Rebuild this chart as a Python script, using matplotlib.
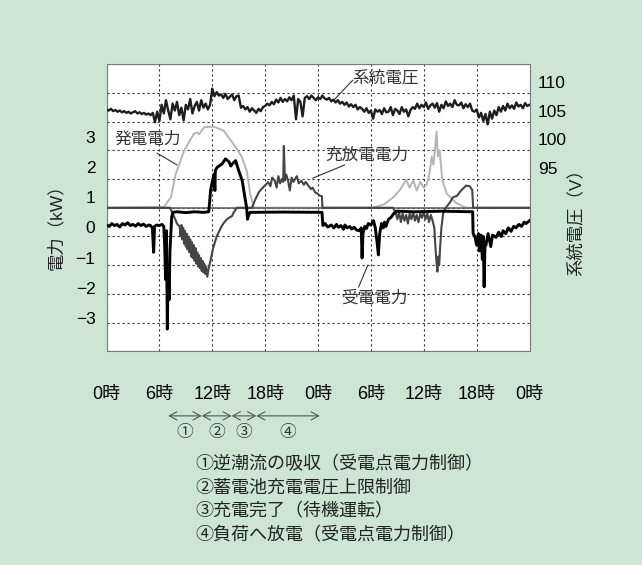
import numpy as np
import matplotlib
matplotlib.use('Agg')
import matplotlib.pyplot as plt

plt.rcParams['font.family'] = ['Liberation Sans', 'Noto Sans CJK JP']

# system voltage, every 15 min over 48 h (V)
volt_h = np.arange(0, 48.01, 0.25)
volt = [
    105.2, 105.0, 105.3, 104.9, 105.1, 104.8, 105.0, 104.7,
    104.9, 104.6, 104.8, 104.5, 104.7, 104.9, 104.5, 104.7,
    104.4, 104.6, 104.3, 104.5, 104.2, 104.6, 103.0, 104.8,
    103.2, 106.0, 104.5, 106.8, 105.0, 103.5, 106.2, 105.0,
    106.5, 104.2, 105.5, 103.3, 106.0, 105.2, 107.0, 104.5,
    105.8, 106.5, 105.0, 106.8, 105.5, 106.2, 105.2, 106.0,
    108.8, 107.5, 108.2, 107.6, 107.8, 107.2, 107.9, 107.0,
    107.4, 107.8, 106.8, 107.5, 107.6, 105.5, 105.8, 105.2,
    105.6, 104.8, 105.4, 105.0, 104.6, 105.3, 104.9, 105.6,
    105.8, 106.2, 105.9, 106.5, 106.1, 106.9, 106.4, 107.2,
    106.5, 107.0, 106.6, 107.3, 106.8, 107.6, 103.5, 107.0,
    106.5, 104.0, 107.2, 107.5, 107.0, 107.6, 107.2, 106.8,
    107.3, 107.0, 107.6, 107.1, 106.9, 107.2, 106.6, 106.9,
    106.4, 106.8, 106.2, 106.5, 106.0, 106.4, 105.7, 106.1,
    105.6, 106.0, 105.2, 105.6, 105.3, 104.8, 105.4, 104.6,
    105.0, 103.6, 105.2, 104.8, 105.1, 104.4, 105.4, 104.7,
    104.8, 105.6, 104.2, 105.3, 105.0, 104.4, 105.6, 104.8,
    105.2, 104.0, 105.1, 105.6, 105.3, 106.2, 105.4, 106.0,
    105.6, 106.4, 105.3, 105.9, 106.2, 105.5, 106.3, 104.8,
    106.0, 105.4, 106.6, 105.8, 106.2, 105.6, 106.8, 106.0,
    105.9, 106.4, 105.4, 106.1, 105.6, 106.2, 105.0, 104.8,
    105.2, 103.8, 104.6, 103.2, 104.4, 102.6, 104.8, 103.6,
    105.0, 104.2, 105.6, 104.8, 105.8, 105.0, 106.2, 105.4,
    105.9, 105.3, 106.4, 105.7, 106.0, 105.4, 106.3, 105.8,
    106.0,
]

# 発電電力 (kW)
pv_h = [0, 6.5, 7.3, 7.85, 8.8, 9.9, 10.3, 10.5, 11.06, 12.2, 13.3, 14.4,
        15.3, 15.9, 16.3, 16.7, 17.0,
        30.2, 31.5, 32.5, 33.3, 34.0, 34.4, 34.8, 35.2, 35.6, 36.0, 36.3,
        36.6, 36.9, 37.1, 37.3, 37.45, 37.6, 37.8, 38.1, 38.6, 39.7, 40.8, 48]
pv_kw = [1.0, 1.02, 1.36, 2.17, 2.98, 3.57, 3.62, 3.55, 3.80, 3.82, 3.68, 3.22,
         2.8, 2.3, 1.5, 1.02, 1.0,
         1.0, 1.12, 1.35, 1.62, 1.97, 1.7, 1.95, 1.6, 1.9, 1.7, 1.8,
         2.1, 2.78, 2.5, 3.12, 3.65, 2.78, 3.0, 1.97, 1.5, 1.16, 1.0, 1.0]

# 充放電電力 (kW)
bat_h = [0, 7.2, 7.46, 8.03,
         8.3, 8.4, 8.5, 8.6, 8.7, 8.8, 8.9, 9.0, 9.1, 9.2, 9.3, 9.4, 9.5, 9.6,
         9.7, 9.8, 9.9, 10.0, 10.1, 10.2, 10.3, 10.4, 10.5, 10.6, 10.7, 10.8,
         10.9, 11.0, 11.1, 11.2, 11.3, 11.43,
         11.6, 11.8, 12.1, 12.5, 13.0, 13.3, 13.7, 14.27, 14.4,
         14.8, 16.5, 16.9, 17.3, 17.8, 18.35, 18.6, 18.8, 19.1, 19.3, 19.5,
         19.7, 19.9, 20.05, 20.12, 20.25, 20.4, 20.6, 20.8, 21.0, 21.2, 21.4,
         21.6, 21.8, 22.1, 22.4, 22.6, 22.9, 23.2, 23.4, 23.65, 23.9, 24.2,
         24.45, 24.5, 32.5, 32.8, 33.0, 33.2, 33.4, 33.6, 33.8, 34.0, 34.2,
         34.4, 34.6, 34.8, 35.0, 35.2, 35.4, 35.6, 35.8, 36.0, 36.2, 36.4,
         36.6, 36.8, 37.0, 37.2, 37.35, 37.45, 37.55, 37.65, 37.75, 37.85,
         38.0, 38.2, 38.5, 39.0, 39.3, 39.8, 40.1, 40.4, 40.8, 41.2, 41.5,
         41.6, 48]
bat_kw = [1.0, 1.0, 0.84, 0.43,
          0.35, 0.0, 0.4, -0.1, 0.3, -0.25, 0.2, -0.35, 0.1, -0.45, 0.0, -0.55,
          -0.1, -0.7, -0.2, -0.75, -0.3, -0.85, -0.4, -0.95, -0.55, -1.05,
          -0.65, -1.1, -0.75, -1.2, -0.85, -1.25, -0.95, -1.3, -1.05, -1.4,
          -1.1, -0.84, -0.4, 0.0, 0.32, 0.47, 0.61, 0.72,
          0.82, 1.0, 1.0, 1.3, 1.55, 1.72, 1.89, 1.75, 2.05, 1.94, 1.7, 2.1,
          1.85, 2.0, 1.9, 3.15, 1.95, 2.15, 1.94, 1.6, 2.05, 1.9, 2.0, 2.1,
          1.85, 1.94, 1.8, 1.9, 1.77, 1.65, 1.7, 1.54, 1.5, 1.42, 1.4, 1.0,
          1.0, 0.85, 0.6, 0.85, 0.5, 0.8, 0.55, 0.75, 0.45, 0.8, 0.6, 0.85,
          0.55, 0.75, 0.5, 0.8, 0.65, 0.85, 0.6, 0.8, 0.5, 0.75, 0.55, 0.3,
          -0.5, -0.9, -1.22, -0.7, -1.0, -0.4, 0.3, 0.8, 1.0, 1.2, 1.36, 1.42,
          1.55, 1.65, 1.77, 1.75, 1.62, 1.0, 1.0]

# 受電電力 (kW)
rcv_h = [0, 0.3, 0.6, 0.9, 1.2, 1.5, 1.8, 2.1, 2.4, 2.7, 3.0, 3.3, 3.6, 3.9,
         4.2, 4.5, 4.8, 5.0, 5.2, 5.35, 5.45, 5.7, 6.0, 6.3, 6.5, 6.6, 6.7,
         6.8, 6.9, 7.0, 7.1, 7.2, 7.3, 7.4, 7.55, 8, 9, 10, 11, 11.6, 11.7,
         11.8, 12.0, 12.2, 12.3, 12.35, 12.57, 13.1, 13.5, 13.9, 14.1, 14.27,
         14.65, 15.0, 15.4, 15.7, 15.9, 16.0, 16.1, 16.3, 20, 24.45,
         24.55, 24.8, 25.1, 25.5, 25.8, 26.1, 26.3, 26.6, 26.9, 27.05, 27.3,
         27.6, 27.8, 28.1, 28.4, 28.75, 28.9, 29.0, 29.1, 29.3, 29.5, 29.7,
         30.0, 30.3, 30.5, 30.7, 30.85, 31.0, 31.2, 31.4, 31.55, 31.7, 32.0,
         32.3, 32.6, 32.9, 35, 38, 41.55, 41.6, 41.8, 42.0, 42.2, 42.3, 42.5,
         42.65, 42.75, 42.85, 42.95, 43.05, 43.3, 43.6, 43.8, 44.2, 44.5,
         44.8, 45.0, 45.3, 45.6, 45.9, 46.2, 46.45, 46.8, 47.1, 47.4, 47.6, 48]
rcv_kw = [0.4, 0.35, 0.45, 0.38, 0.42, 0.33, 0.45, 0.4, 0.48, 0.38, 0.42, 0.36,
          0.45, 0.38, 0.43, 0.35, 0.4, 0.38, 0.3, -0.55, 0.35, 0.4, 0.38, 0.42,
          0.35, -0.3, -1.5, 0.2, -3.22, -1.0, -2.2, -0.5, 0.1, 0.7, 0.84, 0.86,
          0.83, 0.86, 0.84, 0.86, 1.2, 1.59, 1.9, 2.17, 1.6, 2.3, 2.41, 2.52,
          2.70, 2.6, 2.45, 2.52, 2.64, 2.29, 1.94, 1.36, 1.0, 0.6, 0.72, 0.84,
          0.85, 0.84,
          0.38, 0.45, 0.33, 0.4, 0.3, 0.42, 0.32, 0.38, 0.25, 0.4, 0.3, 0.35,
          0.26, 0.32, 0.22, 0.2, 0.3, -0.75, 0.1, 0.35, 0.28, 0.45, 0.4, 0.55,
          0.3, -0.2, -0.64, 0.1, 0.45, 0.3, 0.5, 0.35, 0.6, 0.67, 0.8, 0.88,
          0.86, 0.88, 0.86, 0.1, 0.0, -0.3, 0.1, -0.5, 0.05, -0.8, 0.0, -1.75,
          -0.2, -0.3, 0.1, -0.35, 0.05, -0.03, 0.15, 0.0, 0.2, 0.1, 0.3, 0.18,
          0.35, 0.3, 0.42, 0.35, 0.5, 0.45, 0.55]

hour_ticks = [0, 6, 12, 18, 24, 30, 36, 42, 48]
hour_names = ['0時', '6時', '12時', '18時', '0時', '6時', '12時', '18時', '0時']
kw_ticks = [-3, -2, -1, 0, 1, 2, 3]
volt_ticks = [95, 100, 105, 110]

phases = [(7.0, 10.8, '①'), (10.8, 14.2, '②'), (14.2, 17.0, '③'), (17.0, 24.2, '④')]
notes = ['①逆潮流の吸収（受電点電力制御）',
         '②蓄電池充電電圧上限制御',
         '③充電完了（待機運転）',
         '④負荷へ放電（受電点電力制御）']

bg = '#cde6d4'
fig = plt.figure(figsize=(6.42, 5.65), dpi=100, facecolor=bg)
pos = [0.1659, 0.3779, 0.6589, 0.5088]

# left labels sit on their own scale in the original scan
ax_lab = fig.add_axes(pos, frameon=False)
ax_lab.patch.set_visible(False)
ax_lab.set_ylim(-4.12, 5.43)
ax_lab.set_yticks(kw_ticks)
ax_lab.set_yticklabels([str(t).replace('-', '\u2212') for t in kw_ticks], fontsize=12.5)
ax_lab.tick_params(axis='y', length=0, pad=8)
ax_lab.set_xticks([])

ax = fig.add_axes(pos)
ax.set_facecolor('white')
ax.set_xlim(0, 48)
ax.set_ylim(-4, 6)
ax.set_xticks(hour_ticks)
ax.set_xticklabels(hour_names, fontsize=13)
ax.set_yticks(range(-4, 7))
ax.set_yticklabels([])
ax.tick_params(axis='both', length=0)
ax.tick_params(axis='x', pad=25)
ax.grid(True, color='#333333', linestyle=(0, (2, 2.5)), linewidth=0.8)
for s in ax.spines.values():
    s.set_color('#7a7a7a')

ax.plot(pv_h, pv_kw, color='#b5b5b5', lw=1.4, zorder=3)
ax.axhline(1, color='#5a5a5a', lw=1.1, zorder=3.5)
ax.plot(bat_h, bat_kw, color='#454545', lw=1.5, zorder=4)
ax.plot(rcv_h, rcv_kw, color='black', lw=2.1, zorder=5)

axv = ax.twinx()
axv.set_ylim(63.24, 113.07)
axv.set_yticks(volt_ticks)
axv.set_yticklabels([str(t) for t in volt_ticks], fontsize=12.5)
axv.tick_params(axis='y', length=0, pad=6)
for s in axv.spines.values():
    s.set_visible(False)
axv.plot(volt_h, volt, color='#1e1e1e', lw=1.7, zorder=5)

# line labels with leaders
lab_kw = dict(fontsize=12, color='#333333', ha='center', va='center')
lead = dict(arrowstyle='-', color='#333333', lw=0.8, shrinkA=0, shrinkB=0)
ax.text(31.7, 5.51, '系統電圧', **lab_kw)
ax.annotate('', xy=(25.9, 4.78), xytext=(27.95, 5.44), arrowprops=lead)
ax.text(4.7, 3.39, '発電電力', **lab_kw)
ax.annotate('', xy=(8.0, 2.49), xytext=(5.73, 2.9), arrowprops=lead)
ax.text(29.55, 2.83, '充放電電力', **lab_kw)
ax.annotate('', xy=(23.4, 2.03), xytext=(27.05, 2.49), arrowprops=lead)
ax.text(30.34, -2.14, '受電電力', **lab_kw)
ax.annotate('', xy=(29.66, -0.99), xytext=(28.6, -1.76), arrowprops=lead)

# phase arrows under the time axis
xt = ax.get_xaxis_transform()
for h0, h1, num in phases:
    ax.annotate('', xy=(h0, -0.224), xytext=(h1, -0.224), xycoords=xt, textcoords=xt,
                arrowprops=dict(arrowstyle='<->,head_length=0.55,head_width=0.3',
                                color='#555555', lw=0.8, shrinkA=0, shrinkB=0),
                annotation_clip=False)
    ax.text((h0 + h1) / 2, -0.282, num, transform=xt, ha='center', va='center',
            fontsize=12, color='#333333')

fig.text(56 / 642, 1 - 223 / 565, '電力（kW）', rotation=90, ha='center', va='center',
         fontsize=12.5, color='#222222')
fig.text(575 / 642, 1 - 218 / 565, '系統電圧（V）', rotation=90, ha='center', va='center',
         fontsize=12.5, color='#222222')

for i, line in enumerate(notes):
    fig.text(195 / 642, 1 - (465 + 23.4 * i) / 565, line, ha='left', va='center',
             fontsize=13, color='#222222')

fig.savefig('out.png', dpi=100, facecolor=bg)
